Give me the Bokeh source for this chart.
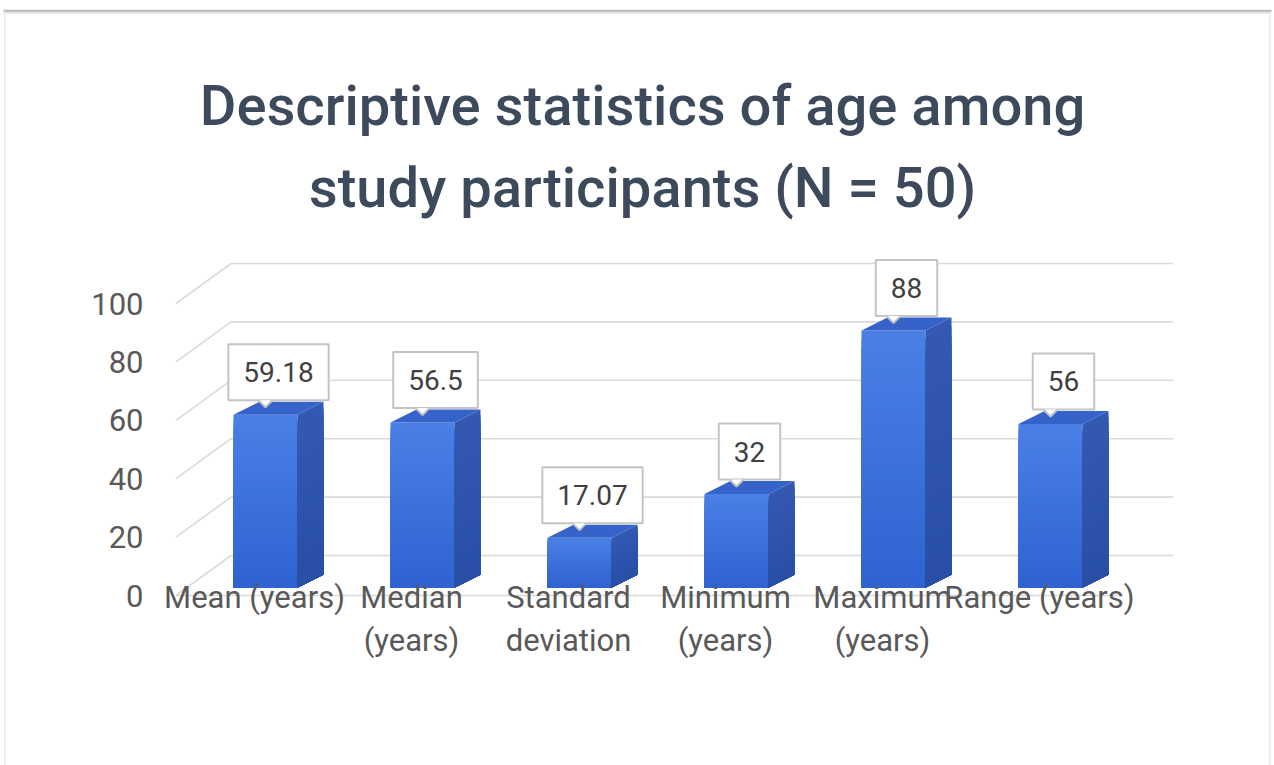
from bokeh.plotting import figure
from bokeh.models import Range1d, ColumnDataSource
from bokeh.core.properties import value
from bokeh.embed import file_html
from bokeh.resources import INLINE

# ---- data -------------------------------------------------------------
title_lines = ["Descriptive statistics of age among", "study participants (N = 50)"]
categories = ["Mean (years)", "Median (years)", "Standard deviation",
              "Minimum (years)", "Maximum (years)", "Range (years)"]
category_labels = ["Mean (years)", "Median\n(years)", "Standard\ndeviation",
                   "Minimum\n(years)", "Maximum\n(years)", "Range (years)"]
values = [59.18, 56.5, 17.07, 32, 88, 56]
y_ticks = [0, 20, 40, 60, 80, 100]

# ---- page geometry ----------------------------------------------------
W, H = 1274, 765
CAT_PX = 157.0      # pixels per category step
UNIT_PX = 2.92      # pixels per value unit
ORIGIN = (254.0, 595.0)   # pixel position of category 0 / value 0 on the front edge


def ddx(px):
    return px / CAT_PX


def ddy(px):
    return px / UNIT_PX


def at_x(px):
    return (px - ORIGIN[0]) / CAT_PX


def at_y(py):
    return (ORIGIN[1] - py) / UNIT_PX


def mix(c1, c2, t):
    a = [int(c1[i:i + 2], 16) for i in (1, 3, 5)]
    b = [int(c2[i:i + 2], 16) for i in (1, 3, 5)]
    return "#%02x%02x%02x" % tuple(round(x + (y - x) * t) for x, y in zip(a, b))


BAR_W = ddx(64)
BAR_OFF = (ddx(11), ddy(8))      # bars stand slightly behind the floor's front edge
BAR_DEPTH = (ddx(26), ddy(13))   # oblique depth of each column
WALL = (ddx(55), ddy(40))        # depth of the floor / back wall
FLOOR_L, FLOOR_R = -0.5, len(categories) - 0.5

FRONT_TOP, FRONT_BOT = "#4a80e5", "#2f63d1"
SIDE_TOP, SIDE_BOT = "#3459b3", "#284fa5"
TOP = "#3563c9"
GRID = "#dadada"
TEXT = "#595959"
STRIPS = 30

p = figure(width=W, height=H, x_range=Range1d(at_x(0), at_x(W)),
           y_range=Range1d(at_y(H), at_y(0)), output_backend="svg",
           toolbar_location=None, x_axis_location=None, y_axis_location=None,
           min_border=0, outline_line_color=None,
           background_fill_color="white", border_fill_color="white")
p.grid.visible = False

# ---- card outline -----------------------------------------------------
p.line([at_x(3), at_x(W - 3)], [at_y(10.5), at_y(10.5)], line_color="#bdbdbd", line_width=2.5)
p.line([at_x(3), at_x(W - 3)], [at_y(12.5), at_y(12.5)], line_color="#e2e2e2", line_width=1.5)
p.multi_line([[at_x(4.5), at_x(4.5)], [at_x(W - 4.5), at_x(W - 4.5)]],
             [[at_y(11), at_y(H)], [at_y(11), at_y(H)]], line_color="#e8e8e8", line_width=1.5)

# ---- gridlines on the back wall, left wall and floor edge -------------
back_xs = [[FLOOR_L + WALL[0], FLOOR_R + WALL[0]] for t in y_ticks]
back_ys = [[t + WALL[1], t + WALL[1]] for t in y_ticks]
side_xs = [[FLOOR_L, FLOOR_L + WALL[0]] for t in y_ticks]
side_ys = [[t, t + WALL[1]] for t in y_ticks]
p.multi_line(back_xs + side_xs + [[FLOOR_L, FLOOR_R]],
             back_ys + side_ys + [[0, 0]], line_color=GRID, line_width=1.6)

# ---- 3-D columns --------------------------------------------------------
n = len(values)
left = [i + BAR_OFF[0] - BAR_W / 2 for i in range(n)]
right = [l + BAR_W for l in left]
base = [BAR_OFF[1]] * n
top = [BAR_OFF[1] + v for v in values]
dxd, dyd = BAR_DEPTH

# front and side faces are shaded top-to-bottom: stacked layers, tallest first,
# each one reaching down to the base so no seams show between bands
fl, fr, fb, ft, fc = [], [], [], [], []
sx, sy, sc = [], [], []
for l, r, b, t in zip(left, right, base, top):
    for k in range(STRIPS, 0, -1):
        y1 = b + (t - b) * k / STRIPS
        shade = (k - 0.5) / STRIPS
        fl.append(l)
        fr.append(r)
        fb.append(b)
        ft.append(y1)
        fc.append(mix(FRONT_BOT, FRONT_TOP, shade))
        sx.append([r, r + dxd, r + dxd, r])
        sy.append([b, b + dyd, y1 + dyd, y1])
        sc.append(mix(SIDE_BOT, SIDE_TOP, shade))

front = ColumnDataSource(dict(left=fl, right=fr, bottom=fb, top=ft, color=fc))
p.quad(left="left", right="right", bottom="bottom", top="top", source=front,
       fill_color="color", line_color=None)
p.patches(sx, sy, fill_color=sc, line_color=None)

top_xs = [[l, r, r + dxd, l + dxd] for l, r in zip(left, right)]
top_ys = [[t, t, t + dyd, t + dyd] for t in top]
p.patches(top_xs, top_ys, fill_color=TOP, line_color=None)

# ---- data labels with call-out boxes -----------------------------------
lab_x = [i + BAR_OFF[0] + dxd / 2 for i in range(n)]
lab_y = [t + dyd / 2 + ddy(8) for t in top]
lab_txt = [f"{v:g}" for v in values]
p.text(x=lab_x, y=lab_y, text=lab_txt, text_font=value("Roboto"),
       text_font_size="28px", text_color="#404040", text_align="center",
       text_baseline="bottom", background_fill_color="white",
       border_line_color="#c4c4c4", border_line_width=2,
       padding=dict(left=15, right=15, top=18, bottom=18))

# small pointer under each box
nx = [i + BAR_OFF[0] for i in range(n)]
hw, hh = ddx(7), ddy(7)
ptr_xs = [[x - hw, x, x + hw] for x in nx]
ptr_ys = [[y, y - hh, y] for y in lab_y]
p.patches(ptr_xs, ptr_ys, fill_color="white", line_color=None)
p.multi_line(ptr_xs, ptr_ys, line_color="#c4c4c4", line_width=2)

# ---- value axis labels --------------------------------------------------
p.text(x=[at_x(143)] * len(y_ticks), y=y_ticks, text=[str(t) for t in y_ticks],
       text_font=value("Roboto"), text_font_size="31px", text_color=TEXT,
       text_align="right", text_baseline="middle")

# ---- category labels ----------------------------------------------------
p.text(x=list(range(n)), y=[ddy(17)] * n, text=category_labels,
       text_font=value("Roboto"), text_font_size="31px", text_color=TEXT,
       text_align="center", text_baseline="top", text_line_height=1.17)

# ---- title --------------------------------------------------------------
p.text(x=[at_x(642)] * 2, y=[at_y(105), at_y(187)], text=title_lines,
       text_font=value("Roboto Medium"), text_font_size="56px", text_color="#3d4a5b",
       text_align="center", text_baseline="alphabetic")

open("out.html", "w").write(file_html(p, INLINE))
